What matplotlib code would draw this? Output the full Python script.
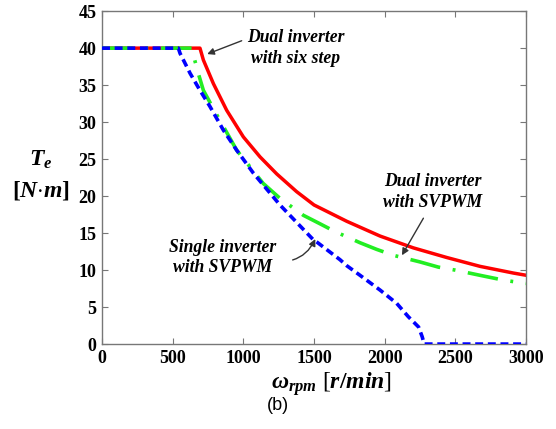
import numpy as np
import matplotlib
matplotlib.use("Agg")
from matplotlib import pyplot as plt

# speed [r/min] and torque [N·m]
speed_red = [0, 693, 717, 788, 882, 1000, 1118, 1236, 1377, 1500, 1731, 1967, 2203, 2439, 2675, 2910, 3000]
torque_red = [40, 40, 38.4, 35.2, 31.6, 28.0, 25.3, 23.0, 20.6, 18.8, 16.6, 14.6, 13.0, 11.7, 10.5, 9.6, 9.3]

speed_green = [0, 634, 650, 681, 717, 800, 953, 1141, 1259, 1425, 1538, 1649, 1825, 1943,
               2061, 2250, 2380, 2498, 2698, 2852, 3000]
torque_green = [40, 40, 38.8, 36.6, 34.3, 31.4, 26.2, 21.7, 19.7, 17.4, 16.3, 15.2, 13.7, 12.8,
                12.0, 11.1, 10.4, 10.0, 9.2, 8.6, 8.2]

speed_blue = [0, 540, 552, 623, 693, 764, 859, 953, 1071, 1189, 1259, 1495, 1519, 1684, 1731,
              1825, 1967, 2085, 2167, 2240, 2265, 2280, 3000]
torque_blue = [40, 40, 39.3, 36.6, 34.3, 32.1, 28.9, 26.2, 23.1, 20.4, 18.8, 14.1, 13.8, 11.4, 10.6,
               9.3, 7.3, 5.5, 3.7, 2.3, 1.0, 0, 0]

x_ticks = [0, 500, 1000, 1500, 2000, 2500, 3000]
y_ticks = [0, 5, 10, 15, 20, 25, 30, 35, 40, 45]

plt.rcParams['font.family'] = ['Liberation Serif', 'DejaVu Serif']
plt.rcParams['mathtext.fontset'] = 'custom'
plt.rcParams['mathtext.it'] = 'Liberation Serif:italic:bold'
plt.rcParams['mathtext.rm'] = 'Liberation Serif:bold'
plt.rcParams['mathtext.bf'] = 'Liberation Serif:bold'

fig = plt.figure(figsize=(5.56, 4.29), dpi=100)
ax = fig.add_axes([0.1835, 0.198, 0.7626, 0.776])

ax.plot(speed_red, torque_red, color="#ff0000", lw=2.5, solid_joinstyle="round", zorder=2)
ax.plot(speed_green, torque_green, color="#22ee22", lw=2.6, linestyle=(0, (8.5, 3.5, 0.8, 3.5)), zorder=3)
ax.plot(speed_blue, torque_blue, color="#0000ff", lw=2.6, linestyle=(0, (2.2, 1.3)), zorder=4)

ax.set_xlim(0, 3000)
ax.set_ylim(0, 45)
ax.set_xticks(x_ticks)
ax.set_yticks(y_ticks)
ax.tick_params(direction="in", top=True, right=True, length=4, color="#777777",
               labelsize=13, pad=4)
for lab in ax.get_xticklabels() + ax.get_yticklabels():
    lab.set_fontweight("bold")
for s in ax.spines.values():
    s.set_color("#777777")
    s.set_linewidth(1.0)

ann = dict(fontsize=12.7, fontweight="bold", fontstyle="italic", ha="center", va="center",
           linespacing=1.3)
arrow = dict(arrowstyle="-|>", color="#333333", lw=1.0, mutation_scale=10)

ax.annotate("Dual inverter\nwith six step", xy=(744, 39.2), xytext=(1371, 40.0),
            arrowprops=dict(arrow, shrinkA=2, shrinkB=0, relpos=(0.0, 0.75)), **ann)
ax.annotate("Dual inverter\nwith SVPWM", xy=(2122, 12.0), xytext=(2340, 20.6),
            arrowprops=dict(arrow, shrinkA=4, shrinkB=0, relpos=(0.45, 0.0)), **ann)
ax.annotate("Single inverter\nwith SVPWM", xy=(1509, 14.2), xytext=(852, 11.7),
            arrowprops=dict(arrow, shrinkA=10, shrinkB=0, relpos=(1.0, 0.4),
                            connectionstyle="arc3,rad=0.35"), **ann)

fig.text(0.074, 0.627, "$T_e$", fontsize=17, ha="center", va="center")
fig.text(0.074, 0.555, "$[N{\\cdot}m]$", fontsize=17, ha="center", va="center")
fig.text(0.597, 0.105, "$\\omega_{rpm}$ [$r/min$]", fontsize=17, ha="center", va="center")
fig.text(0.5, 0.055, "(b)", fontsize=13, ha="center", va="center", family="Liberation Sans")

fig.savefig("out.png", dpi=100)
